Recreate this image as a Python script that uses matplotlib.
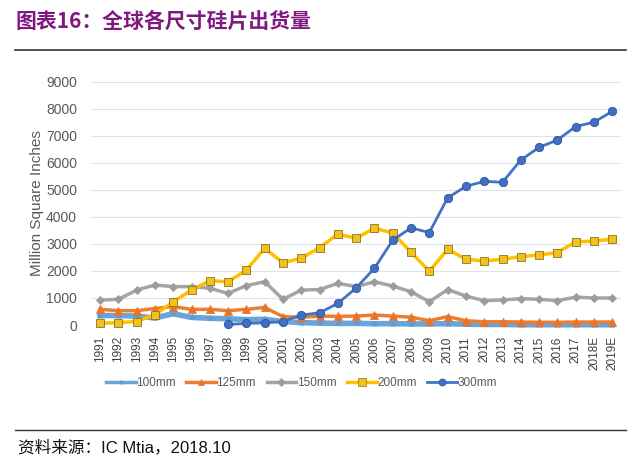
import matplotlib
matplotlib.use("Agg")
import matplotlib.pyplot as plt
from matplotlib.lines import Line2D

plt.rcParams['font.family'] = ['Liberation Sans', 'Noto Sans CJK SC', 'DejaVu Sans']

years = ['1991', '1992', '1993', '1994', '1995', '1996', '1997', '1998', '1999', '2000',
         '2001', '2002', '2003', '2004', '2005', '2006', '2007', '2008', '2009', '2010',
         '2011', '2012', '2013', '2014', '2015', '2016', '2017', '2018E', '2019E']

mm100 = [350, 350, 330, 260, 420, 280, 250, 230, 200, 210, 130, 90, 70, 60, 60, 50, 50,
         40, 40, 50, 30, 20, 20, 10, 10, 10, 10, 10, 10]
mm125 = [580, 530, 530, 610, 680, 580, 580, 530, 580, 650, 310, 290, 330, 320, 330, 370,
         330, 290, 160, 310, 160, 120, 120, 110, 100, 100, 110, 110, 110]
mm150 = [920, 950, 1290, 1480, 1420, 1420, 1360, 1170, 1460, 1600, 950, 1290, 1310, 1540,
         1420, 1600, 1440, 1230, 860, 1310, 1070, 900, 925, 975, 950, 900, 1030, 1000, 1000]
mm200 = [60, 90, 130, 380, 860, 1290, 1640, 1600, 2030, 2840, 2300, 2470, 2860, 3360,
         3210, 3580, 3400, 2690, 1990, 2800, 2430, 2370, 2430, 2530, 2590, 2680, 3080,
         3100, 3180]
# 300mm starts in 1998
mm300 = [None] * 7 + [20, 60, 80, 130, 370, 450, 800, 1370, 2100, 3140, 3590, 3420, 4700,
                      5130, 5310, 5280, 6100, 6570, 6840, 7340, 7500, 7900]

series = [
    ('100mm', mm100, '#6AA4D8', '#5B9BD5', '*', 4, 4.0),
    ('125mm', mm125, '#ED7D31', '#E8742A', '^', 5.5, 2.5),
    ('150mm', mm150, '#A5A5A5', '#9C9C9C', 'D', 4.5, 2.5),
    ('200mm', mm200, '#FFC000', '#F2C21B', 's', 6, 2.5),
    ('300mm', mm300, '#4472C4', '#3F6FC6', 'o', 6, 2.0),
]

fig = plt.figure(figsize=(6.4, 4.69), dpi=100)
ax = fig.add_axes([0.142, 0.307, 0.829, 0.519])

x = list(range(len(years)))
handles = []
for name, vals, lc, fc, mk, ms, lw in series:
    xs = [i for i, v in zip(x, vals) if v is not None]
    ys = [v for v in vals if v is not None]
    edge = '#8a7420' if name == '200mm' else ('#2f5597' if name == '300mm' else fc)
    ax.plot(xs, ys, color=lc, lw=lw, marker=mk, markersize=ms, markerfacecolor=fc,
            markeredgecolor=edge, markeredgewidth=0.6, clip_on=False, zorder=3)
    handles.append(Line2D([0], [0], color=lc, lw=min(lw, 2.5), marker=mk,
                          markersize=ms * 0.85, markerfacecolor=fc, markeredgecolor=edge,
                          markeredgewidth=0.5, label=name))

ax.set_xlim(-0.5, len(years) - 0.5)
ax.set_ylim(0, 9000)
ax.set_yticks(range(0, 9001, 1000))
ax.set_xticks(x)
ax.set_xticklabels(years, rotation=90, fontsize=8.5, color='#404040')
ax.tick_params(axis='y', labelsize=10, colors='#595959', length=0, pad=10)
ax.tick_params(axis='x', length=0, pad=8)
ax.grid(axis='y', color='#DCE3EC', lw=0.8)
ax.set_axisbelow(True)
for s in ax.spines.values():
    s.set_visible(False)
ax.set_ylabel('Million Square Inches', fontsize=11, color='#595959', labelpad=1)

fig.legend(handles=handles, loc='center', bbox_to_anchor=(0.471, 0.183), ncol=5,
           frameon=False, fontsize=8.5, handlelength=2.5, columnspacing=0.9,
           handletextpad=0.05, labelcolor='#595959')

fig.text(0.024, 0.955, '图表16：全球各尺寸硅片出货量', fontsize=15, fontweight='bold',
         color='#80197F', va='center', family=['Noto Sans CJK SC'])
fig.add_artist(Line2D([0.023, 0.978], [0.893, 0.893], color='#333333', lw=1.2))
fig.add_artist(Line2D([0.023, 0.978], [0.083, 0.083], color='#333333', lw=1.0))
fig.text(0.028, 0.047, '资料来源：IC Mtia，2018.10', fontsize=12, color='#111111',
         va='center')

fig.savefig('out.png', dpi=100)
